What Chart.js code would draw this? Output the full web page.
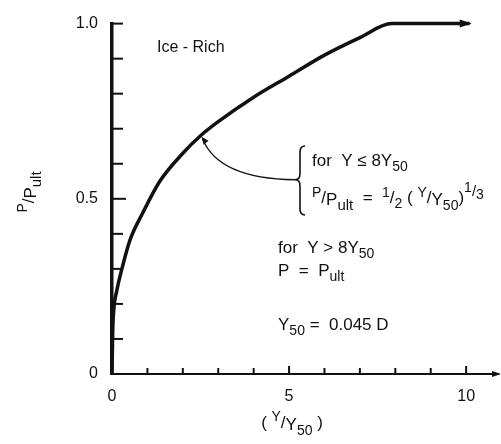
<!DOCTYPE html>
<html>
<head>
<meta charset="utf-8">
<script src="https://cdn.jsdelivr.net/npm/chart.js@4.4.0/dist/chart.umd.min.js"></script>
<style>
  html, body { margin: 0; padding: 0; background: #fff; }
  #wrap { width: 501px; height: 444px; }
</style>
</head>
<body>
<div id="wrap"><canvas id="myChart"></canvas></div>
<script>
// Data

const yOverY50 = [0, 0.02, 0.04, 0.14, 0.28, 0.5, 0.87, 1.35, 2, 2.5, 3, 4, 5, 6, 7, 7.9, 10.1];
const pOverPult = [0, 0.12, 0.17, 0.24, 0.30, 0.38, 0.46, 0.55, 0.63, 0.68, 0.72, 0.79, 0.85, 0.91, 0.96, 1.0, 1.0];

const xTickValues = [0, 1, 2, 3, 4, 5, 6, 7, 8, 9, 10];
const xLabelled = [0, 5, 10];
const yTickValues = [0, 0.1, 0.2, 0.3, 0.4, 0.5, 0.6, 0.7, 0.8, 0.9, 1.0];
const yLabelled = { '0': '0', '0.5': '0.5', '1': '1.0' };

const FONT = '"Liberation Sans", Arial, sans-serif';
const INK = '#111';

// Text helpers

function drawParts(ctx, x, y, parts) {
  let cx = x;
  parts.forEach(function(p) {
    ctx.font = (p.size || 17) + 'px ' + FONT;
    ctx.fillText(p.t, cx, y + (p.dy || 0));
    cx += ctx.measureText(p.t).width;
  });
  return cx - x;
}

function partsWidth(ctx, parts) {
  let w = 0;
  parts.forEach(function(p) {
    ctx.font = (p.size || 17) + 'px ' + FONT;
    w += ctx.measureText(p.t).width;
  });
  return w;
}

const sub = function(t) { return { t: t, size: 14, dy: 5 }; };
const sup = function(t, dy) { return { t: t, size: 14, dy: dy || -6 }; };

const notes = [
  { x: 157, y: 52, parts: [{ t: 'Ice - Rich', size: 16 }] },
  { x: 312, y: 166, parts: [{ t: 'for  Y \u2264 8Y' }, sub('50')] },
  { x: 312, y: 203, parts: [sup('P'), { t: '/' }, { t: 'P', dy: 2 }, { t: 'ult', size: 15, dy: 7 },
    { t: '  =  ' }, sup('1'), { t: '/' }, sub('2'), { t: ' ( ' }, sup('Y'), { t: '/' },
    { t: 'Y', dy: 2 }, { t: '50', size: 14, dy: 7 }, { t: ')' }, sup('1', -11), { t: '/', size: 15, dy: -7 }, sup('3', -4)] },
  { x: 278, y: 253, parts: [{ t: 'for  Y > 8Y' }, sub('50')] },
  { x: 278, y: 276, parts: [{ t: 'P  =  P' }, sub('ult')] },
  { x: 278, y: 330, parts: [{ t: 'Y' }, sub('50'), { t: ' =  0.045 D' }] },
];

// Decorations: inward ticks, arrows, notes, axis titles

const decor = {
  id: 'decor',
  afterDraw(chart) {
    const ctx = chart.ctx;
    const xs = chart.scales.x;
    const ys = chart.scales.y;
    const area = chart.chartArea;
    ctx.save();
    ctx.strokeStyle = INK;
    ctx.fillStyle = INK;

    // tick marks drawn into the plot
    ctx.lineWidth = 2;
    yTickValues.forEach(function(v) {
      const py = ys.getPixelForValue(v);
      ctx.beginPath();
      ctx.moveTo(area.left, py);
      ctx.lineTo(area.left + (v === 0.5 ? 14 : 11), py);
      ctx.stroke();
    });
    xTickValues.forEach(function(v) {
      const px = xs.getPixelForValue(v);
      ctx.beginPath();
      ctx.moveTo(px, area.bottom);
      ctx.lineTo(px, area.bottom - (xLabelled.includes(v) ? 8 : 6));
      ctx.stroke();
    });

    // x-axis arrow
    ctx.beginPath();
    ctx.moveTo(area.right + 3, area.bottom);
    ctx.lineTo(area.right - 6, area.bottom - 3);
    ctx.lineTo(area.right - 6, area.bottom + 3);
    ctx.closePath();
    ctx.fill();

    // arrow on the end of the curve
    const last = yOverY50.length - 1;
    const ex = xs.getPixelForValue(yOverY50[last]);
    const ey = ys.getPixelForValue(pOverPult[last]);
    ctx.beginPath();
    ctx.moveTo(ex + 2, ey);
    ctx.lineTo(ex - 10, ey - 4);
    ctx.lineTo(ex - 10, ey + 4);
    ctx.closePath();
    ctx.fill();

    // leader from the curve to the brace
    const lx = xs.getPixelForValue(2.5) + 2;
    const ly = ys.getPixelForValue(0.68) + 3;
    const bx = 300, bt = 146, bm = ly + 41, bb = 215;
    ctx.lineWidth = 1.3;
    ctx.beginPath();
    ctx.moveTo(lx, ly);
    ctx.quadraticCurveTo(lx + 16, ly + 40, bx - 5, bm);
    ctx.stroke();
    ctx.beginPath();
    ctx.moveTo(lx - 1, ly - 2);
    ctx.lineTo(lx + 6, ly + 2);
    ctx.lineTo(lx + 1, ly + 6);
    ctx.closePath();
    ctx.fill();

    // brace
    ctx.lineWidth = 1.6;
    ctx.beginPath();
    ctx.moveTo(bx + 5, bt);
    ctx.quadraticCurveTo(bx, bt, bx, bt + 6);
    ctx.lineTo(bx, bm - 6);
    ctx.quadraticCurveTo(bx, bm, bx - 5, bm);
    ctx.quadraticCurveTo(bx, bm, bx, bm + 6);
    ctx.lineTo(bx, bb - 6);
    ctx.quadraticCurveTo(bx, bb, bx + 5, bb);
    ctx.stroke();

    // notes
    ctx.textAlign = 'left';
    ctx.textBaseline = 'alphabetic';
    notes.forEach(function(n) {
      drawParts(ctx, n.x, n.y, n.parts);
    });

    // x-axis title
    const xTitle = [{ t: '( ' }, sup('Y', -7), { t: '/' }, { t: 'Y', dy: 2 }, { t: '50', size: 14, dy: 7 }, { t: ' )' }];
    const xw = partsWidth(ctx, xTitle);
    drawParts(ctx, 292 - xw / 2, 428, xTitle);

    // y-axis title
    const yTitle = [sup('P', -7), { t: '/' }, { t: 'P', dy: 2 }, { t: 'ult', size: 15, dy: 7 }];
    const yw = partsWidth(ctx, yTitle);
    ctx.translate(34, 192);
    ctx.rotate(-Math.PI / 2);
    drawParts(ctx, -yw / 2, 0, yTitle);

    ctx.restore();
  }
};

// Chart

const ctx = document.getElementById('myChart').getContext('2d');

const chart = new Chart(ctx, {
  type: 'scatter',
  data: {
    datasets: [{
      label: 'Ice-Rich',
      data: yOverY50.map(function(x, i) { return { x: x, y: pOverPult[i] }; }),
      showLine: true,
      borderColor: INK,
      borderWidth: 3.5,
      pointRadius: 0,
      cubicInterpolationMode: 'monotone',
      clip: false,
    }]
  },
  options: {
    responsive: true,
    maintainAspectRatio: false,
    animation: false,
    layout: { padding: { top: 22, right: 3, left: 0, bottom: 0 } },
    plugins: {
      legend: { display: false },
      tooltip: { enabled: false },
    },
    scales: {
      x: {
        type: 'linear',
        min: 0,
        max: 10.9,
        afterFit: function(scale) { scale.height = 70; },
        afterBuildTicks: function(scale) {
          scale.ticks = xTickValues.map(function(v) { return { value: v }; });
        },
        ticks: {
          padding: 13,
          color: INK,
          font: { family: FONT, size: 16 },
          maxRotation: 0,
          autoSkip: false,
          callback: function(v) { return xLabelled.includes(v) ? String(v) : ''; },
        },
        grid: { display: false, drawTicks: false },
        border: { display: true, color: INK, width: 2 },
      },
      y: {
        type: 'linear',
        min: 0,
        max: 1.0,
        afterFit: function(scale) { scale.width = 112; },
        afterBuildTicks: function(scale) {
          scale.ticks = yTickValues.map(function(v) { return { value: v }; });
        },
        ticks: {
          padding: 14,
          color: INK,
          font: { family: FONT, size: 16 },
          autoSkip: false,
          callback: function(v) {
            const key = String(Math.round(v * 10) / 10);
            return yLabelled[key] || '';
          },
        },
        grid: { display: false, drawTicks: false },
        border: { display: true, color: INK, width: 3.5 },
      },
    },
  },
  plugins: [decor],
});
</script>
</body>
</html>
